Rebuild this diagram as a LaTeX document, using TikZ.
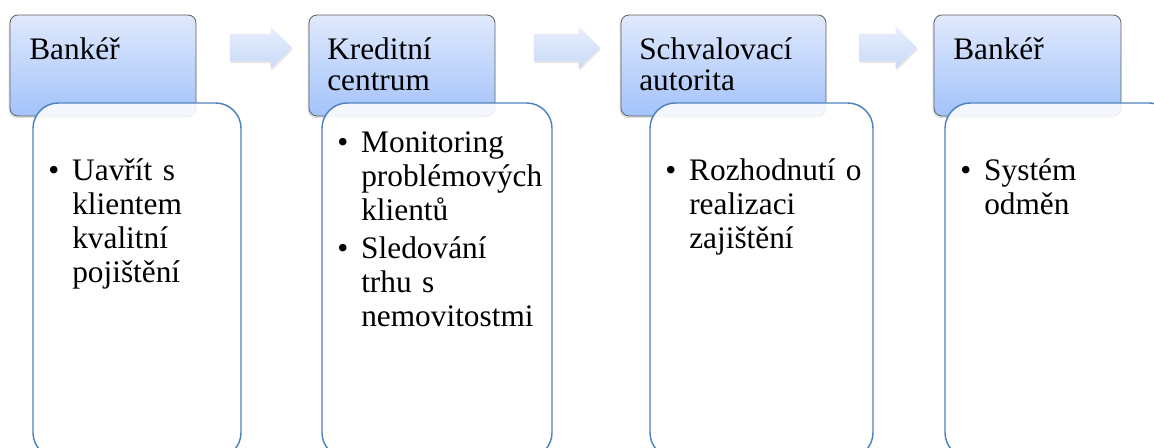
\documentclass[tikz,border=0pt]{standalone}
\usepackage{fontspec}
\setmainfont{Liberation Serif}
\usetikzlibrary{shapes.arrows, shadows}

\definecolor{hdtop}{RGB}{224,233,252}
\definecolor{hdbot}{RGB}{163,195,251}
\definecolor{artop}{RGB}{232,239,252}
\definecolor{arbot}{RGB}{200,217,248}
\definecolor{boxline}{RGB}{79,129,189}
\definecolor{hdline}{RGB}{95,95,95}

\newcommand{\bul}{\makebox[18pt][l]{\textbullet}}
\newcommand{\ind}{\hspace*{18pt}}

\begin{document}
\begin{tikzpicture}[x=0.75pt, y=-0.75pt,
	hdr/.style={draw=hdline, line width=0.6pt, rounded corners=6pt, top color=hdtop, bottom color=hdbot,
		drop shadow={shadow xshift=-1pt, shadow yshift=-1.5pt, opacity=0.25}, minimum height=75.75pt, inner sep=0pt},
	itembox/.style={draw=boxline, line width=1.1pt, rounded corners=19pt, fill=white, fill opacity=0.88,
		minimum height=266.25pt, inner sep=0pt},
	flow/.style={single arrow, single arrow head extend=5.6pt, single arrow head indent=0pt, minimum width=31.5pt,
		inner xsep=0pt, inner ysep=10.1pt, top color=artop, bottom color=arbot,
		drop shadow={shadow xshift=0.8pt, shadow yshift=-1.5pt, opacity=0.2}},
	hdtext/.style={anchor=base west, inner sep=0pt, text width=160pt, align=left, font=\fontsize{23.5}{23.25}\selectfont},
	itemtext/.style={anchor=base west, inner sep=0pt, text width=180pt, align=left, font=\fontsize{23.5}{25.5}\selectfont}]
	\useasboundingbox (0,0) rectangle (1154,448);

	% headers
	\node[hdr, minimum width=139.5pt] (h1) at (103,65.5) {};
	\node[hdr, minimum width=139.5pt] (h2) at (402,65.5) {};
	\node[hdr, minimum width=153.75pt] (h3) at (723.5,65.5) {};
	\node[hdr, minimum width=140.25pt] (h4) at (1027.5,65.5) {};

	% arrows
	\node[flow, minimum height=46.5pt] (a1) at (254,47.5) {};
	\node[flow, minimum height=49.5pt] (a2) at (560,47.5) {};
	\node[flow, minimum height=43.5pt] (a3) at (881,47.5) {};

	% boxes
	\node[itembox, minimum width=156pt] (b1) at (137,280.5) {};
	\node[itembox, minimum width=172.5pt] (b2) at (437,280.5) {};
	\node[itembox, minimum width=167.25pt] (b3) at (761.5,280.5) {};
	\node[itembox, minimum width=172.5pt] (b4) at (1060,280.5) {};

	\node[hdtext] (h1txt) at (29,60) {Bankéř};
	\node[hdtext] (h2txt) at (327,60) {Kreditní\\centrum};
	\node[hdtext] (h3txt) at (639,60) {Schvalovací\\autorita};
	\node[hdtext] (h4txt) at (953,60) {Bankéř};

	\node[itemtext] (b1txt) at (48,181) {\bul Uavřít s\\\ind klientem\\\ind kvalitní\\\ind pojištění};
	\node[itemtext] (b2txt) at (337,153) {\bul Monitoring\\\ind problémových\\\ind klientů\\[3pt]\bul Sledování\\\ind trhu s\\\ind nemovitostmi};
	\node[itemtext] (b3txt) at (665,181) {\bul Rozhodnutí o\\\ind realizaci\\\ind zajištění};
	\node[itemtext] (b4txt) at (960,181) {\bul Systém\\\ind odměn};
\end{tikzpicture}
\end{document}
